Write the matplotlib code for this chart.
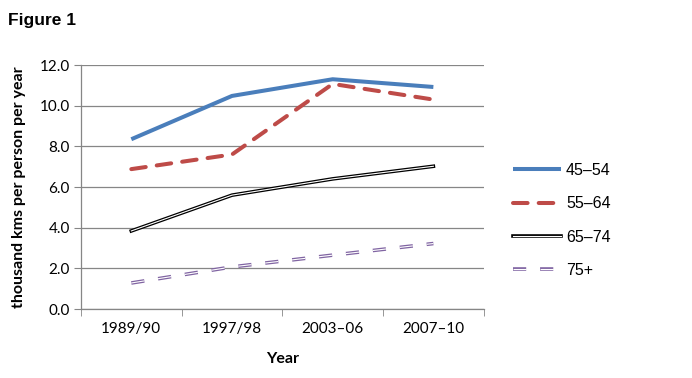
import matplotlib
matplotlib.use("Agg")
import matplotlib.pyplot as plt
import matplotlib.patheffects as pe

plt.rcParams["lines.scale_dashes"] = False

# data
years = ["1989/90", "1997/98", "2003\u201306", "2007\u201310"]
age_45_54 = [8.35, 10.48, 11.3, 10.92]
age_55_64 = [6.88, 7.6, 11.07, 10.3]
age_65_74 = [3.84, 5.6, 6.4, 7.02]
age_75 = [1.28, 2.07, 2.65, 3.22]
labels = ["45\u201354", "55\u201364", "65\u201374", "75+"]

fig = plt.figure(figsize=(6.92, 3.78), dpi=100)
ax = fig.add_axes([0.117, 0.1825, 0.582, 0.6455])

x = range(len(years))
l1, = ax.plot(x, age_45_54, color="#4a7ebb", lw=2.9, solid_capstyle="butt")
l2, = ax.plot(x, age_55_64, color="#be4b48", lw=2.9, dashes=(10.5, 8),
              dash_capstyle="round")
# double lines: dark outline with white centre
l3, = ax.plot(x, age_65_74, color="white", lw=0.8,
              path_effects=[pe.Stroke(linewidth=2.6, foreground="black"), pe.Normal()])
l4, = ax.plot(x, age_75, color="white", lw=0.8, dashes=(9.5, 10),
              dash_capstyle="butt",
              path_effects=[pe.Stroke(linewidth=2.6, foreground="#8064a2"), pe.Normal()])

ax.set_xlim(-0.5, 3.5)
ax.set_ylim(0, 12)
ax.set_yticks([0, 2, 4, 6, 8, 10, 12])
ax.set_yticklabels(["%.1f" % v for v in [0, 2, 4, 6, 8, 10, 12]],
                   fontfamily="Lato", fontsize=11)
ax.set_xticks(list(x))
ax.set_xticklabels(years, fontfamily="Lato", fontsize=11)
ax.set_xticks([-0.5, 0.5, 1.5, 2.5, 3.5], minor=True)
ax.tick_params(axis="x", which="major", length=0, pad=9)
ax.tick_params(axis="x", which="minor", length=5, color="#868686")
ax.tick_params(axis="y", length=5, color="#868686", pad=3)

ax.grid(axis="y", color="#868686", lw=0.9)
ax.set_axisbelow(True)
for s in ["top", "right"]:
    ax.spines[s].set_visible(False)
for s in ["left", "bottom"]:
    ax.spines[s].set_color("#868686")
    ax.spines[s].set_linewidth(0.9)

ax.set_xlabel("Year", fontfamily="Lato", fontweight="bold", fontsize=11.5, labelpad=12)
ax.set_ylabel("thousand kms per person per year", fontfamily="Lato",
              fontweight="bold", fontsize=11.5, labelpad=10)

fig.text(0.012, 0.935, "Figure 1", fontfamily="Liberation Sans",
         fontweight="bold", fontsize=12.5)

fig.legend([l1, l2, l3, l4], labels, loc="upper left",
           bbox_to_anchor=(0.72, 0.607), frameon=False, handlelength=3.0,
           labelspacing=1.15, handletextpad=0.35,
           prop={"family": "Liberation Sans", "size": 11.5})

fig.savefig("out.png", dpi=100)
